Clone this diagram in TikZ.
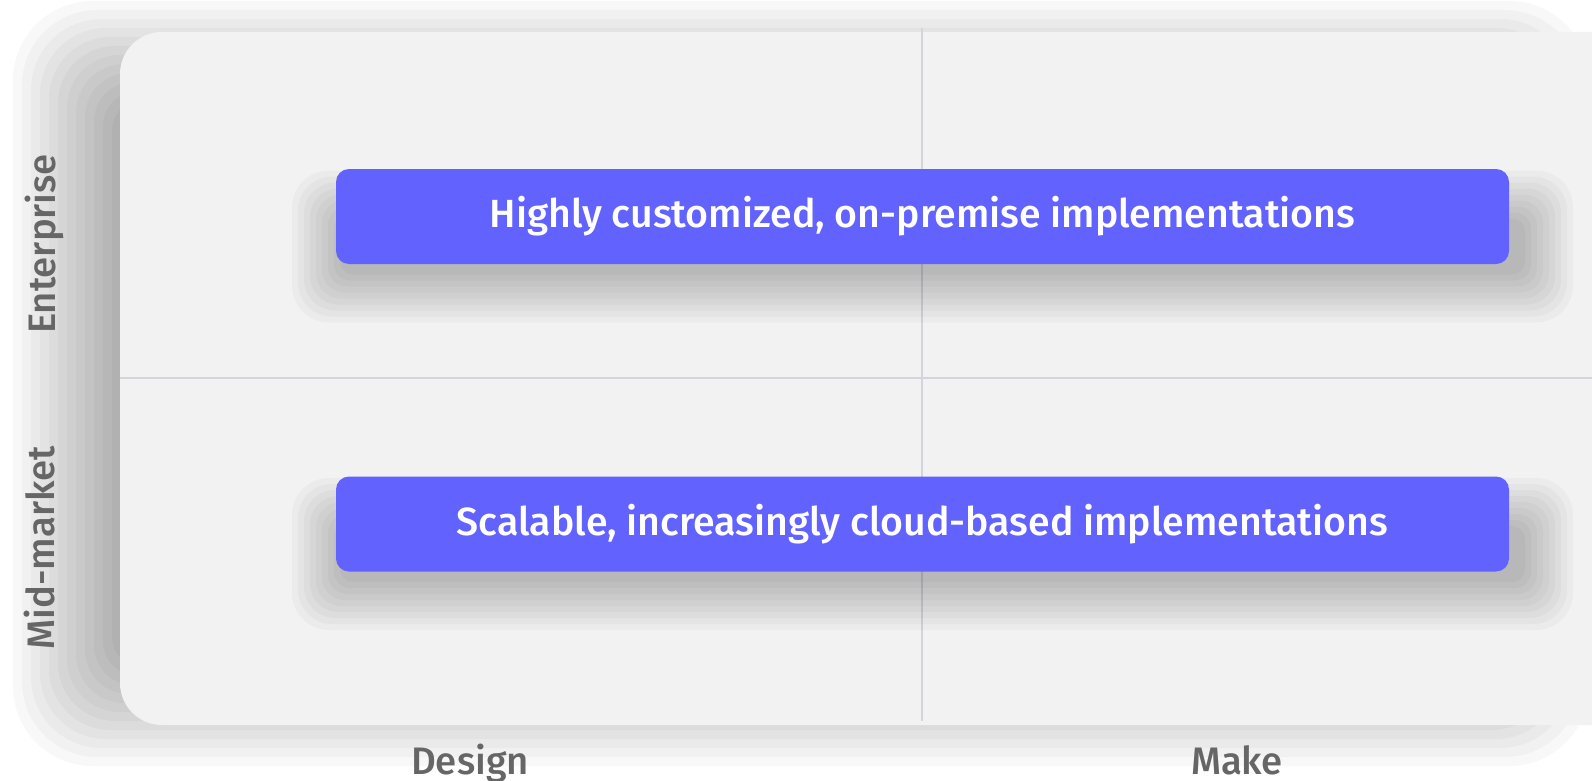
\documentclass[tikz,border=0pt]{standalone}
\usepackage{fontspec}
\setmainfont{Fira Sans}
\newfontfamily\medfont{Fira Sans Medium}
\definecolor{panelbg}{HTML}{F2F2F2}
\definecolor{boxc}{HTML}{6262FE}
\definecolor{gridc}{HTML}{D3D4DC}
\definecolor{labc}{HTML}{666666}
\tikzset{
  quadbox/.style={fill=boxc, rounded corners=13pt, minimum width=1173pt, minimum height=95pt,
    inner sep=0pt, text=white, font=\medfont\fontsize{39.3}{47}\selectfont},
  axislabel/.style={text=labc, inner sep=0pt, anchor=base, font=\medfont\fontsize{38.3}{44}\selectfont},
  gridline/.style={draw=gridc, line width=2.5pt}
}
\begin{document}
\begin{tikzpicture}[x=1pt,y=-1pt]
\useasboundingbox (0,0) rectangle (1592,781);
\fill[white] (0,0) rectangle (1592,781);
% panel shadow
\foreach \k in {0,...,11} {
  \pgfmathsetmacro\e{9*\k}
  \pgfmathsetmacro\r{30+\e/2}
  \fill[black, opacity=0.028, rounded corners=\r pt] (112-\e,100-\e) rectangle (1490+\e,667+\e);
}
% panel
\fill[panelbg, rounded corners=42pt] (120,32) rectangle (1634,725);
% grid lines
\coordinate (vtop) at (922,28);
\coordinate (vbot) at (922,721);
\coordinate (hleft) at (120,378);
\coordinate (hright) at (1592,378);
\draw[gridline] (vtop) -- (vbot);
\draw[gridline] (hleft) -- (hright);
% box shadows
\foreach \cy in {216.5,524} {
  \foreach \k in {0,...,8} {
    \pgfmathsetmacro\e{6*\k}
    \pgfmathsetmacro\r{13+\e/2}
    \fill[black, opacity=0.028, rounded corners=\r pt] (340-\e,\cy+2-\e) rectangle (1525+\e,\cy+58+\e);
  }
}
% boxes
\node[quadbox] (ent) at (922.5,216.5) {Highly customized, on-premise implementations};
\node[quadbox] (mid) at (922.5,524) {Scalable, increasingly cloud-based implementations};
% labels
\node[axislabel, rotate=90] (lent) at (55,244) {Enterprise};
\node[axislabel, rotate=90] (lmid) at (54,548) {Mid-market};
\node[axislabel] (ldes) at (470,774) {Design};
\node[axislabel] (lmak) at (1237,774) {Make};
\end{tikzpicture}
\end{document}
